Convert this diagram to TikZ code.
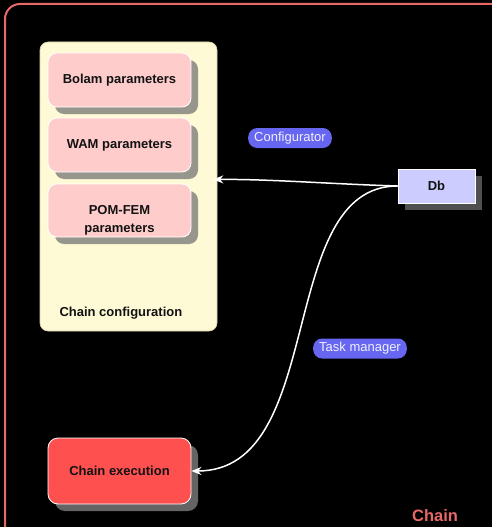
\documentclass[tikz,border=0pt]{standalone}
\usepackage{fontspec}
\setmainfont{Liberation Sans}
\usetikzlibrary{arrows.meta,shadows}
\definecolor{framered}{RGB}{232,104,104}
\definecolor{cfgfill}{RGB}{255,250,214}
\definecolor{cfgline}{RGB}{214,208,170}
\definecolor{parfill}{RGB}{255,204,204}
\definecolor{parshadow}{RGB}{150,150,140}
\definecolor{execfill}{RGB}{255,80,80}
\definecolor{execshadow}{RGB}{100,100,100}
\definecolor{dbfill}{RGB}{204,204,255}
\definecolor{dbshadow}{RGB}{80,80,80}
\definecolor{pillfill}{RGB}{102,102,240}
\definecolor{pilltext}{RGB}{240,240,255}
\tikzset{
  x=1pt, y=-1pt,
  txt/.style={font=\fontsize{13}{18}\selectfont\bfseries, text=black!93, align=center},
  parbox/.style={txt, draw=white, line width=0.8pt, fill=parfill, rounded corners=9pt,
    minimum width=143pt, minimum height=54pt, inner sep=2pt,
    drop shadow={shadow xshift=7pt, shadow yshift=-7pt, fill=parshadow, opacity=1}},
  execbox/.style={txt, draw=white, line width=0.8pt, fill=execfill, rounded corners=10pt,
    minimum width=143pt, minimum height=66pt,
    drop shadow={shadow xshift=7pt, shadow yshift=-7pt, fill=execshadow, opacity=1}},
  dbbox/.style={txt, draw=white, line width=0.8pt, fill=dbfill,
    minimum width=77pt, minimum height=34pt,
    drop shadow={shadow xshift=7pt, shadow yshift=-7pt, fill=dbshadow, opacity=1}},
  cfgbox/.style={draw=cfgline, line width=0.6pt, fill=cfgfill, rounded corners=8pt,
    minimum width=177pt, minimum height=289pt},
  pill/.style={fill=pillfill, text=pilltext, rounded corners=9pt, inner xsep=6pt,
    minimum height=20pt, font=\fontsize{13}{15.5}\selectfont},
  link/.style={draw=white, line width=1.5pt, -{Stealth[length=10pt,width=8pt]}},
}
\begin{document}
\begin{tikzpicture}
  % canvas
  \fill[black] (0,0) rectangle (492,527);
  \useasboundingbox (0,0) rectangle (492,527);
  \begin{scope}
    \clip (0,0) rectangle (492,527);
    % outer chain frame, running past the right and bottom edges
    \draw[framered, line width=2pt, rounded corners=15pt] (5,4) rectangle (540,570);
  \end{scope}
  \node[font=\fontsize{16.5}{19}\selectfont\bfseries, text=framered] (chain) at (435,516) {Chain};

  % configuration container
  \node[cfgbox] (cfg) at (128.5,186.5) {};
  \node[txt, anchor=west] (cfglabel) at (56,313) {Chain configuration};

  % parameter blocks
  \node[parbox] (bolam) at (119.5,80) {Bolam parameters};
  \node[parbox] (wam) at (119.5,145) {WAM parameters};
  \node[parbox, minimum height=53pt] (pom) at (119.5,210.5) {};
  \node[txt] (pomtext) at (119.5,220) {POM-FEM\\parameters};

  % execution block
  \node[execbox] (exec) at (119.5,471) {Chain execution};

  % database
  \node[dbbox] (db) at (436.5,186) {Db};

  % connectors
  \draw[link] (db.west) .. controls (330,184) and (270,179) .. ([xshift=-4pt,yshift=7pt]cfg.east);
  \draw[link] (db.west) .. controls (275,186) and (328,471) .. (exec.east);

  % connector labels
  \node[pill] (lcfg) at (290,138) {Configurator};
  \node[pill] (ltask) at (360,348.5) {Task manager};
\end{tikzpicture}
\end{document}
